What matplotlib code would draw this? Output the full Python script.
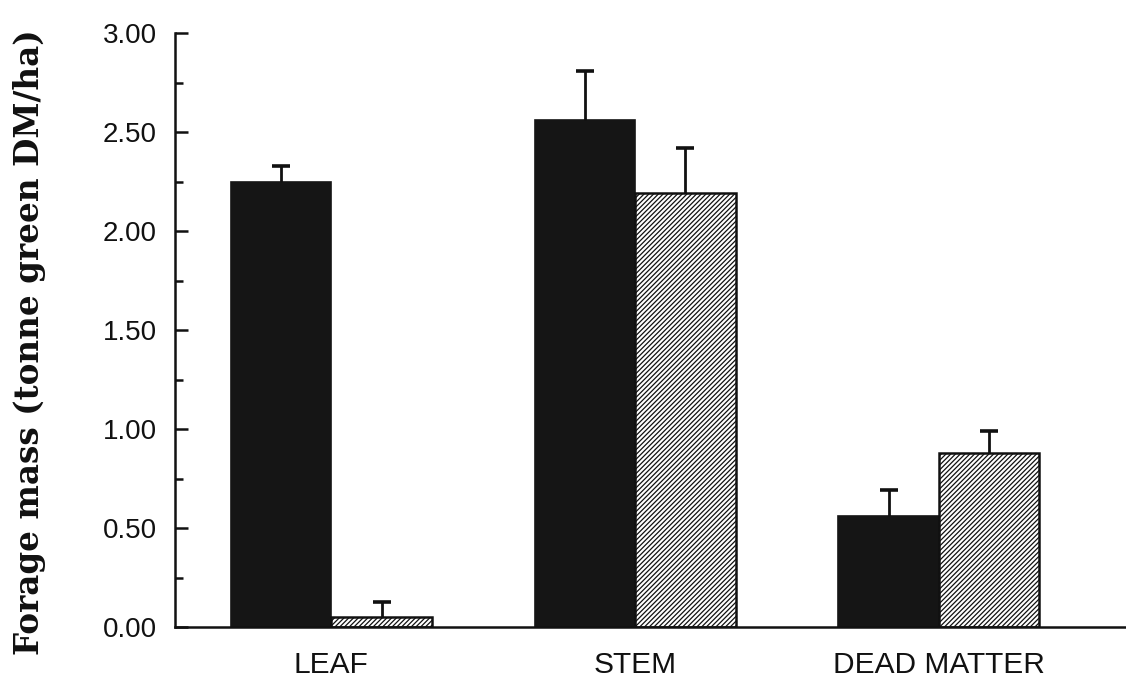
import matplotlib
matplotlib.use("Agg")
import matplotlib.pyplot as plt
from matplotlib.ticker import MultipleLocator, FormatStrFormatter

# Forage components and mean mass (tonne green DM/ha) with standard errors
components = ["LEAF", "STEM", "DEAD MATTER"]
solid_mass = [2.25, 2.56, 0.56]
solid_se = [0.08, 0.25, 0.13]
hatched_mass = [0.05, 2.19, 0.88]
hatched_se = [0.075, 0.23, 0.11]
ytick_values = [0.0, 0.5, 1.0, 1.5, 2.0, 2.5, 3.0]

plt.rcParams["hatch.linewidth"] = 0.9
plt.rcParams["hatch.color"] = "#6a6a6a"

fig = plt.figure(figsize=(11.26, 6.79), dpi=100)
ax = fig.add_axes([175 / 1126, 1 - 627 / 679, 1 - 175 / 1126, (627 - 33) / 679])

positions = list(range(len(components)))
width = 0.331
left_pos = [p - width / 2 for p in positions]
right_pos = [p + width / 2 for p in positions]

ax.bar(left_pos, solid_mass, width=width, color="#151515", edgecolor="#151515",
       linewidth=1.2, zorder=2)
ax.bar(right_pos, hatched_mass, width=width, color="white", edgecolor="#111111",
       linewidth=1.8, hatch="///////", zorder=2)

# upper-only error bars (lower caps hidden)
for xs, ys, se in ((left_pos, solid_mass, solid_se), (right_pos, hatched_mass, hatched_se)):
    _, caps, _ = ax.errorbar(xs, ys, yerr=[[0] * len(se), se], fmt="none",
                             ecolor="#111111", elinewidth=2.0, capsize=6.2,
                             capthick=2.6, zorder=3)
    caps[0].set_visible(False)

ax.set_xlim(-0.515, 2.616)
ax.set_ylim(0, 3.0)

ax.spines["top"].set_visible(False)
ax.spines["right"].set_visible(False)
ax.spines["left"].set_linewidth(1.8)
ax.spines["bottom"].set_linewidth(1.8)
ax.spines["left"].set_color("#111111")
ax.spines["bottom"].set_color("#111111")

ax.set_yticks(ytick_values)
ax.yaxis.set_major_formatter(FormatStrFormatter("%.2f"))
ax.yaxis.set_minor_locator(MultipleLocator(0.25))
ax.tick_params(axis="y", which="major", direction="in", length=9.5, width=1.8,
               pad=13, labelsize=20, colors="#111111")
ax.tick_params(axis="y", which="minor", direction="in", length=6, width=1.8,
               colors="#111111")

ax.set_xticks(positions)
ax.set_xticklabels(components)
ax.tick_params(axis="x", which="both", length=0, pad=17, labelsize=21.5,
               colors="#111111")

for lbl in ax.get_xticklabels() + ax.get_yticklabels():
    lbl.set_family("Liberation Sans")

fig.text(30 / 1126, 1 - 342 / 679, "Forage mass (tonne green DM/ha)",
         rotation=90, ha="center", va="center", fontsize=23.5,
         family="DejaVu Serif", fontweight="bold", color="#111111")

fig.savefig("out.png", dpi=100)
